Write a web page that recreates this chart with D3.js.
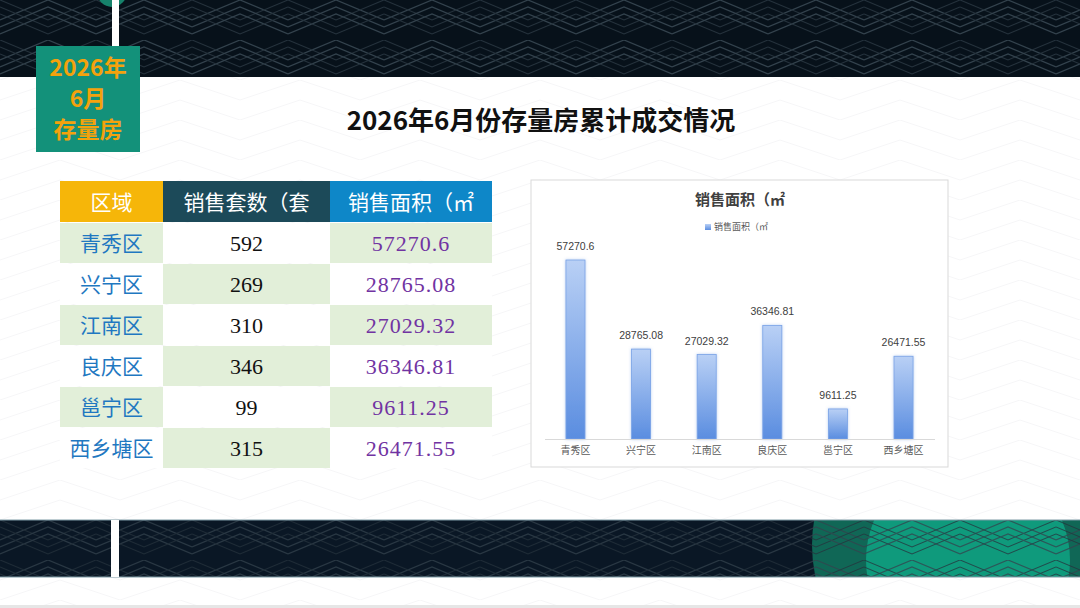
<!DOCTYPE html>
<html>
<head>
<meta charset="utf-8">
<script src="https://cdn.jsdelivr.net/npm/d3@7"></script>
<style>
  html, body { margin:0; padding:0; background:#fff; }
  svg { display:block; font-family:"Noto Sans CJK SC", "Noto Sans", sans-serif; }
</style>
</head>
<body>
<div id="chart-area"></div>
<script>
// data
var districts = ["青秀区", "兴宁区", "江南区", "良庆区", "邕宁区", "西乡塘区"];
var units = [592, 269, 310, 346, 99, 315];
var areas = [57270.6, 28765.08, 27029.32, 36346.81, 9611.25, 26471.55];
var areaLabels = ["57270.6", "28765.08", "27029.32", "36346.81", "9611.25", "26471.55"];
var headers = ["区域", "销售套数（套", "销售面积（㎡"];
var badgeLines = ["2026年", "6月", "存量房"];

var width = 1080, height = 608;

var svg = d3.select("#chart-area")
    .append("svg")
        .attr("width", width)
        .attr("height", height);

var defs = svg.append("defs");

// background pattern for the dark bands
var pat = defs.append("pattern")
    .attr("id", "weave")
    .attr("patternUnits", "userSpaceOnUse")
    .attr("width", 96)
    .attr("height", 40);
[0, 7, 14].forEach(function(o) {
    pat.append("path")
        .attr("d", "M0," + (20 + o) + " L48," + o + " L96," + (20 + o))
        .attr("fill", "none")
        .attr("stroke", "#33424d")
        .attr("stroke-width", 1.3);
    pat.append("path")
        .attr("d", "M0," + (o) + " L48," + (20 + o) + " L96," + (o))
        .attr("fill", "none")
        .attr("stroke", "#25323c")
        .attr("stroke-width", 1.1);
});

var lightPat = defs.append("pattern")
    .attr("id", "weaveLight")
    .attr("patternUnits", "userSpaceOnUse")
    .attr("width", 120)
    .attr("height", 40);
lightPat.append("path")
    .attr("d", "M0,20 L60,0 L120,20 M0,40 L60,20 L120,40")
    .attr("fill", "none")
    .attr("stroke", "#f6f6f7")
    .attr("stroke-width", 1);

var barGrad = defs.append("linearGradient")
    .attr("id", "barGrad")
    .attr("x1", 0).attr("y1", 0).attr("x2", 0).attr("y2", 1);
barGrad.append("stop").attr("offset", "0%").attr("stop-color", "#b9d0f5");
barGrad.append("stop").attr("offset", "100%").attr("stop-color", "#5a8de0");

var clipBottom = defs.append("clipPath").attr("id", "clipBottom");
clipBottom.append("rect").attr("x", 119).attr("y", 520).attr("width", 961).attr("height", 57);

var shadow = defs.append("filter").attr("id", "soft")
    .attr("x", "-30%").attr("y", "-10%").attr("width", "160%").attr("height", "120%");
shadow.append("feDropShadow")
    .attr("dx", 0).attr("dy", 0).attr("stdDeviation", 1.5)
    .attr("flood-color", "#6f9be0").attr("flood-opacity", 0.5);

// page background
svg.append("rect").attr("width", width).attr("height", height).attr("fill", "#ffffff");
svg.append("rect").attr("y", 77).attr("width", width).attr("height", 443).attr("fill", "url(#weaveLight)");
svg.append("rect").attr("y", 577).attr("width", width).attr("height", 28).attr("fill", "url(#weaveLight)");
svg.append("rect").attr("y", 605).attr("width", width).attr("height", 3).attr("fill", "#e6e6e6");

// top band
svg.append("rect").attr("y", 0).attr("width", width).attr("height", 77).attr("fill", "#07111a");
svg.append("rect").attr("y", 0).attr("width", width).attr("height", 77).attr("fill", "url(#weave)");
svg.append("circle").attr("cx", 112).attr("cy", -8).attr("r", 15).attr("fill", "#16826b");

// bottom band
svg.append("rect").attr("y", 520).attr("width", width).attr("height", 57).attr("fill", "#0a1725");
var teal = svg.append("g").attr("clip-path", "url(#clipBottom)");
teal.append("circle").attr("cx", 960).attr("cy", 545).attr("r", 148).attr("fill", "#11705c").attr("opacity", 0.9);
teal.append("circle").attr("cx", 968).attr("cy", 560).attr("r", 102).attr("fill", "#0f9a7c");
svg.append("rect").attr("y", 520).attr("width", width).attr("height", 57).attr("fill", "url(#weave)").attr("opacity", 0.75);
svg.append("line").attr("x1", 0).attr("x2", width).attr("y1", 520).attr("y2", 520).attr("stroke", "#7d9aa5").attr("stroke-width", 1);
svg.append("line").attr("x1", 0).attr("x2", width).attr("y1", 577).attr("y2", 577).attr("stroke", "#7d9aa5").attr("stroke-width", 1);

// white vertical stripes
svg.append("rect").attr("x", 112).attr("y", 0).attr("width", 7).attr("height", 77).attr("fill", "#ffffff");
svg.append("rect").attr("x", 111).attr("y", 520).attr("width", 8).attr("height", 57).attr("fill", "#ffffff");

// badge
svg.append("rect")
    .attr("x", 36).attr("y", 46)
    .attr("width", 104).attr("height", 106)
    .attr("fill", "#13917a");
badgeLines.forEach(function(t, i) {
    svg.append("text")
        .attr("x", 88)
        .attr("y", 76 + i * 31)
        .attr("text-anchor", "middle")
        .attr("font-size", "23px")
        .attr("font-weight", "bold")
        .attr("fill", "#f4a20c")
        .text(t);
});

// main title
svg.append("text")
    .attr("x", 541)
    .attr("y", 130)
    .attr("text-anchor", "middle")
    .attr("font-size", "26px")
    .attr("font-weight", "bold")
    .attr("fill", "#111111")
    .text("2026年6月份存量房累计成交情况");

// table
var colX = [60, 163, 330, 492];
var headerH = 41, rowH = 41, tableTop = 181;
var headerFill = ["#f6b609", "#1c4a59", "#0e87c8"];
var green = "#e2efd9";

var table = svg.append("g").attr("class", "table");

headers.forEach(function(h, j) {
    table.append("rect")
        .attr("x", colX[j]).attr("y", tableTop)
        .attr("width", colX[j + 1] - colX[j]).attr("height", headerH)
        .attr("fill", headerFill[j]);
    table.append("text")
        .attr("x", (colX[j] + colX[j + 1]) / 2)
        .attr("y", tableTop + headerH / 2 + 8)
        .attr("text-anchor", "middle")
        .attr("font-size", "21px")
        .attr("fill", "#ffffff")
        .text(h);
});

districts.forEach(function(d, i) {
    var y0 = tableTop + headerH + 1 + i * rowH;
    var cells = [d, units[i], areaLabels[i]];
    var colors = ["#1f78c1", "#111111", "#7133a2"];
    var fonts = ["'Noto Sans CJK SC', sans-serif", "'Liberation Serif', serif", "'Liberation Serif', serif"];
    cells.forEach(function(c, j) {
        var isGreen = (i + j) % 2 === 0;
        table.append("rect")
            .attr("x", colX[j]).attr("y", y0)
            .attr("width", colX[j + 1] - colX[j]).attr("height", rowH - 1)
            .attr("fill", isGreen ? green : "#ffffff");
        table.append("text")
            .attr("x", (colX[j] + colX[j + 1]) / 2)
            .attr("y", y0 + rowH / 2 + 7)
            .attr("text-anchor", "middle")
            .attr("font-size", j === 0 ? "21px" : "22px")
            .attr("font-family", fonts[j])
            .attr("letter-spacing", j === 2 ? "1px" : "0px")
            .attr("fill", colors[j])
            .text(c);
    });
});

// chart panel
var panel = { x:531, y:180, w:417, h:287 };
svg.append("rect")
    .attr("x", panel.x).attr("y", panel.y)
    .attr("width", panel.w).attr("height", panel.h)
    .attr("fill", "#ffffff")
    .attr("stroke", "#d9d9d9")
    .attr("stroke-width", 1);

svg.append("text")
    .attr("x", 740).attr("y", 205)
    .attr("text-anchor", "middle")
    .attr("font-size", "15px")
    .attr("font-weight", "bold")
    .attr("fill", "#404040")
    .text("销售面积（㎡");

svg.append("rect")
    .attr("x", 705).attr("y", 224)
    .attr("width", 6).attr("height", 6)
    .attr("fill", "url(#barGrad)");
svg.append("text")
    .attr("x", 714).attr("y", 230)
    .attr("font-size", "9px")
    .attr("fill", "#595959")
    .text("销售面积（㎡");

// scales
var x = d3.scaleBand()
    .domain(districts)
    .range([543, 936])
    .paddingInner(0.71)
    .paddingOuter(0.35);

var y = d3.scaleLinear()
    .domain([0, 60000])
    .range([439, 251.5]);

var bars = svg.append("g");
bars.selectAll("rect")
    .data(areas)
    .enter()
    .append("rect")
        .attr("x", function(d, i) { return x(districts[i]); })
        .attr("y", function(d) { return y(d); })
        .attr("width", x.bandwidth())
        .attr("height", function(d) { return y(0) - y(d); })
        .attr("fill", "url(#barGrad)")
        .attr("stroke", "#7aa3e6")
        .attr("stroke-width", 0.8)
        .attr("filter", "url(#soft)");

bars.selectAll("text")
    .data(areas)
    .enter()
    .append("text")
        .attr("x", function(d, i) { return x(districts[i]) + x.bandwidth() / 2; })
        .attr("y", function(d) { return y(d) - 10; })
        .attr("text-anchor", "middle")
        .attr("font-family", "'Liberation Sans', Arial, sans-serif")
        .attr("font-size", "10.5px")
        .attr("fill", "#404040")
        .text(function(d, i) { return areaLabels[i]; });

// X axis
var xAxisCall = d3.axisBottom(x).tickSize(0).tickPadding(8);
var xAxis = svg.append("g")
    .attr("class", "x axis")
    .attr("transform", "translate(0,439)")
    .call(xAxisCall);
xAxis.select(".domain").attr("stroke", "#d9d9d9").attr("d", "M545,0.5H935");
xAxis.selectAll("text")
    .attr("font-family", "'Noto Sans CJK SC', sans-serif")
    .attr("font-size", "10px")
    .attr("fill", "#595959");
</script>
</body>
</html>
